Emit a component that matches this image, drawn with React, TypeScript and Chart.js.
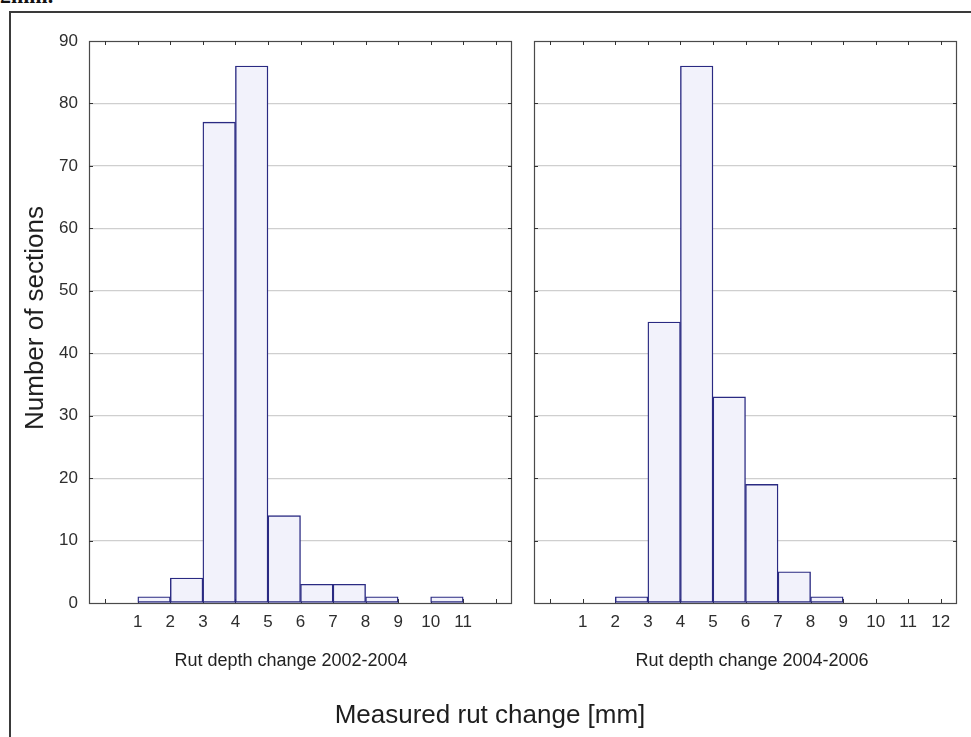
import React, { useEffect, useRef } from "react";
import { Chart, registerables } from "chart.js";

Chart.register(...registerables);

// ---- data ----
const binStarts = [0, 1, 2, 3, 4, 5, 6, 7, 8, 9, 10, 11];
const counts2002_2004 = [0, 1, 4, 77, 86, 14, 3, 3, 1, 0, 1, 0];
const counts2004_2006 = [0, 0, 1, 45, 86, 33, 19, 5, 1, 0, 0, 0];
const xTickValues = [0, 1, 2, 3, 4, 5, 6, 7, 8, 9, 10, 11, 12];
const xLabelsLeft = [1, 2, 3, 4, 5, 6, 7, 8, 9, 10, 11];
const xLabelsRight = [1, 2, 3, 4, 5, 6, 7, 8, 9, 10, 11, 12];
const yTickValues = [0, 10, 20, 30, 40, 50, 60, 70, 80, 90];
const subtitleLeft = "Rut depth change 2002-2004";
const subtitleRight = "Rut depth change 2004-2006";
const yTitle = "Number of sections";
const xTitle = "Measured rut change [mm]";

const FONT = "'Liberation Sans', Arial, Helvetica, sans-serif";

const framePlugin = {
  id: "histFrame",
  beforeDatasetsDraw(chart: any) {
    const { ctx, chartArea: a, scales } = chart;
    ctx.save();
    ctx.strokeStyle = "#4a4a4a";
    ctx.lineWidth = 1.2;
    ctx.strokeRect(a.left + 0.5, a.top + 0.5, a.right - a.left - 1, a.bottom - a.top);
    ctx.strokeStyle = "#333";
    ctx.lineWidth = 1;
    ctx.beginPath();
    for (const v of xTickValues) {
      const px = Math.round(scales.x.getPixelForValue(v)) + 0.5;
      ctx.moveTo(px, a.top);
      ctx.lineTo(px, a.top + 4);
      ctx.moveTo(px, a.bottom);
      ctx.lineTo(px, a.bottom - 4);
    }
    for (const v of yTickValues) {
      if (v === 0 || v === 90) continue;
      const py = Math.round(scales.y.getPixelForValue(v)) + 0.5;
      ctx.moveTo(a.left, py);
      ctx.lineTo(a.left + 4, py);
      ctx.moveTo(a.right, py);
      ctx.lineTo(a.right - 4, py);
    }
    ctx.stroke();
    ctx.restore();
  },
};

function makeConfig(counts: number[], labels: number[], showY: boolean, yWidth: number, padRight: number) {
  return {
    type: "bar" as const,
    data: {
      datasets: [
        {
          data: binStarts.map((b, i) => ({ x: b + 0.5, y: counts[i] })),
          backgroundColor: "#f2f2fb",
          borderColor: "#2a2a82",
          borderWidth: 1.4,
          borderSkipped: false,
          barPercentage: 1,
          categoryPercentage: 1,
        },
      ],
    },
    options: {
      animation: false,
      responsive: false,
      devicePixelRatio: 1,
      layout: { padding: { top: 41, right: padRight, bottom: 94, left: 0 } },
      plugins: { legend: { display: false }, tooltip: { enabled: false } },
      scales: {
        x: {
          type: "linear",
          min: -0.5,
          max: 12.5,
          offset: false,
          grid: { display: false, drawTicks: false },
          border: { display: false },
          afterBuildTicks: (s: any) => {
            s.ticks = xTickValues.map((v) => ({ value: v }));
          },
          afterFit: (s: any) => {
            s.height = 40;
          },
          ticks: {
            autoSkip: false,
            maxRotation: 0,
            padding: 9,
            color: "#2e2e2e",
            font: { family: FONT, size: 17 },
            callback: (v: any) => (labels.includes(v) ? String(v) : ""),
          },
        },
        y: {
          min: 0,
          max: 90,
          afterBuildTicks: (s: any) => {
            s.ticks = yTickValues.map((v) => ({ value: v }));
          },
          afterFit: (s: any) => {
            s.width = yWidth;
          },
          grid: {
            drawTicks: false,
            color: (c: any) => (c.tick && (c.tick.value === 0 || c.tick.value === 90) ? "rgba(0,0,0,0)" : "#cfcfcf"),
            lineWidth: 1.2,
          },
          border: { display: false },
          ticks: {
            display: showY,
            padding: 11,
            color: "#2e2e2e",
            font: { family: FONT, size: 17 },
          },
        },
      },
    },
    plugins: [framePlugin],
  };
}

function Panel(props: { counts: number[]; labels: number[]; showY: boolean; left: number; width: number; yWidth: number; padRight: number }) {
  const ref = useRef<HTMLCanvasElement | null>(null);
  useEffect(() => {
    if (!ref.current) return;
    const chart = new Chart(ref.current, makeConfig(props.counts, props.labels, props.showY, props.yWidth, props.padRight) as any);
    return () => chart.destroy();
  }, []);
  return (
    <canvas
      ref={ref}
      width={props.width}
      height={737}
      style={{ position: "absolute", left: props.left, top: 0, width: props.width, height: 737 }}
    />
  );
}

export default function App() {
  return (
    <div
      style={{
        position: "absolute",
        left: 0,
        top: 0,
        width: 971,
        height: 737,
        overflow: "hidden",
        background: "#fff",
        fontFamily: FONT,
      }}
    >
      <span
        style={{
          position: "absolute",
          left: 0,
          top: -15,
          fontFamily: "'Liberation Serif', serif",
          fontWeight: "bold",
          fontSize: 22,
          lineHeight: "22px",
          color: "#111",
          whiteSpace: "nowrap",
        }}
      >
        2mm.
      </span>
      <div
        style={{
          position: "absolute",
          left: 9,
          top: 11,
          width: 1000,
          height: 800,
          borderLeft: "2px solid #3a3a3a",
          borderTop: "2px solid #3a3a3a",
        }}
      />
      <Panel counts={counts2002_2004} labels={xLabelsLeft} showY={true} left={0} width={520} yWidth={89} padRight={8} />
      <Panel counts={counts2004_2006} labels={xLabelsRight} showY={false} left={520} width={451} yWidth={14} padRight={14} />
      <div
        style={{
          position: "absolute",
          left: 34,
          top: 318,
          transform: "translate(-50%, -50%) rotate(-90deg)",
          fontSize: 26,
          lineHeight: "26px",
          whiteSpace: "nowrap",
          color: "#1e1e1e",
        }}
      >
        {yTitle}
      </div>
      <div
        style={{
          position: "absolute",
          left: 291,
          top: 651,
          transform: "translateX(-50%)",
          fontSize: 18,
          lineHeight: "18px",
          whiteSpace: "nowrap",
          color: "#222",
        }}
      >
        {subtitleLeft}
      </div>
      <div
        style={{
          position: "absolute",
          left: 752,
          top: 651,
          transform: "translateX(-50%)",
          fontSize: 18,
          lineHeight: "18px",
          whiteSpace: "nowrap",
          color: "#222",
        }}
      >
        {subtitleRight}
      </div>
      <div
        style={{
          position: "absolute",
          left: 490,
          top: 701,
          transform: "translateX(-50%)",
          fontSize: 26,
          lineHeight: "26px",
          whiteSpace: "nowrap",
          color: "#1e1e1e",
        }}
      >
        {xTitle}
      </div>
    </div>
  );
}
